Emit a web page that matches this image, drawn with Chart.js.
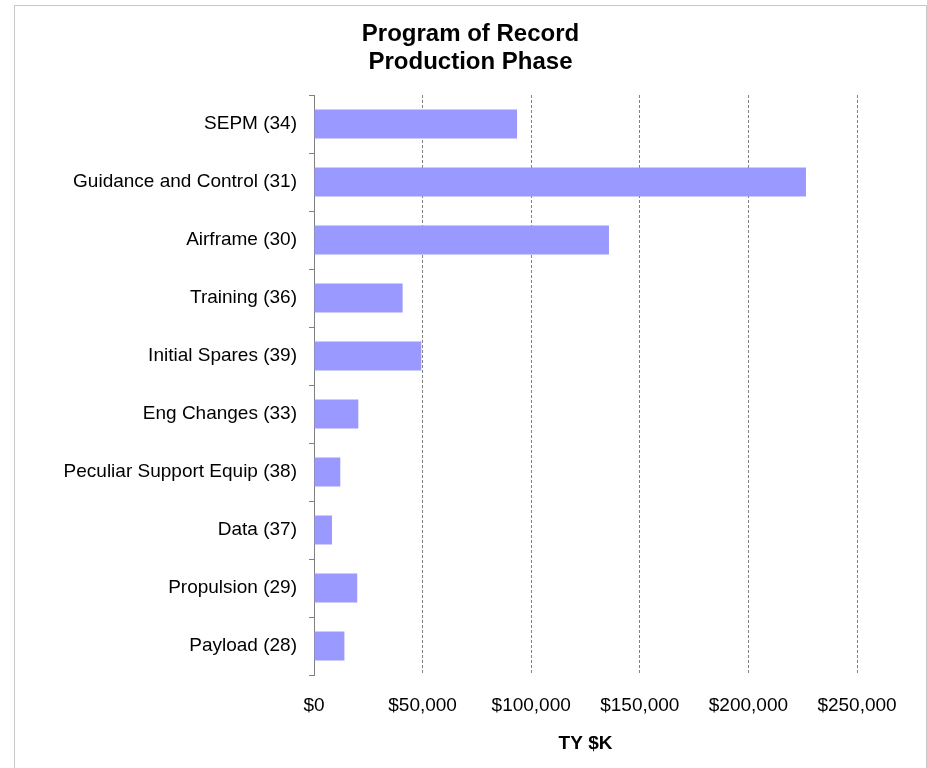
<!DOCTYPE html>
<html>
<head>
<meta charset="utf-8">
<script src="https://cdn.jsdelivr.net/npm/chart.js@4/dist/chart.umd.min.js"></script>
<style>
    html, body { margin: 0; padding: 0; background: #fff; overflow: hidden; }
    #frame {
        position: absolute;
        left: 14px;
        top: 5px;
        width: 911px;
        height: 800px;
        border: 1px solid #c8c8c8;
        background: #fff;
    }
    #chart { display: block; }
</style>
</head>
<body>
<div id="frame">
    <canvas id="chart" width="911" height="762"></canvas>
</div>
<script>
// Cost elements (WBS number in parentheses), top to bottom
const categories = [
    'SEPM (34)',
    'Guidance and Control (31)',
    'Airframe (30)',
    'Training (36)',
    'Initial Spares (39)',
    'Eng Changes (33)',
    'Peculiar Support Equip (38)',
    'Data (37)',
    'Propulsion (29)',
    'Payload (28)'
];

// Then-year dollars, thousands
const costTYK = [93500, 226500, 135800, 40800, 49400, 20400, 12100, 8300, 19900, 14000];

const titleLines = ['Program of Record', 'Production Phase'];
const xAxisTitle = 'TY $K';
const xMax = 250000;
const xStep = 50000;

const fontFamily = 'Arial, "Liberation Sans", Helvetica, sans-serif';
const axisGray = '#808080';

function formatDollars(v) {
    return '$' + Number(v).toLocaleString('en-US');
}

const ctx = document.getElementById('chart').getContext('2d');

const chart = new Chart(ctx, {
    type: 'bar',
    data: {
        labels: categories,
        datasets: [{
            data: costTYK,
            backgroundColor: '#9999ff',
            borderWidth: 0,
            barPercentage: 0.5,
            categoryPercentage: 1.0
        }]
    },
    options: {
        indexAxis: 'y',
        responsive: false,
        animation: false,
        layout: {
            padding: { left: 0, right: 0, top: 0, bottom: 12.6 }
        },
        scales: {
            x: {
                min: 0,
                max: xMax,
                ticks: {
                    stepSize: xStep,
                    color: '#000',
                    padding: 19.6,
                    maxRotation: 0,
                    font: { family: fontFamily, size: 19 },
                    callback: v => formatDollars(v)
                },
                grid: {
                    color: axisGray,
                    lineWidth: 1,
                    drawTicks: false
                },
                border: { display: false, dash: [3, 2] },
                title: {
                    display: true,
                    text: xAxisTitle,
                    color: '#000',
                    font: { family: fontFamily, size: 19, weight: 'bold' },
                    padding: { top: 0, bottom: 0 }
                },
                afterFit: scale => { scale.height = 80.4; }
            },
            y: {
                ticks: {
                    color: '#000',
                    padding: 12,
                    font: { family: fontFamily, size: 19 }
                },
                grid: {
                    drawOnChartArea: false,
                    drawTicks: true,
                    tickLength: 5,
                    color: axisGray,
                    offset: true
                },
                border: { display: true, color: axisGray, width: 1 },
                afterFit: scale => { scale.width = 299; }
            },
            // empty right-hand margin so the title stays centred on the canvas
            yRight: {
                type: 'category',
                position: 'right',
                ticks: { display: false },
                grid: { display: false },
                border: { display: false },
                afterFit: scale => { scale.width = 69; }
            }
        },
        plugins: {
            legend: { display: false },
            tooltip: { enabled: false },
            title: {
                display: true,
                text: titleLines,
                color: '#000',
                font: { family: fontFamily, size: 24, weight: 'bold', lineHeight: '28px' },
                padding: { top: 14, bottom: 19 }
            }
        }
    }
});
</script>
</body>
</html>
